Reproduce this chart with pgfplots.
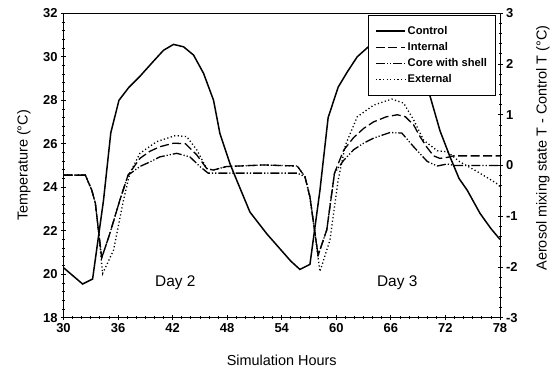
\documentclass[border=0pt]{standalone}
\usepackage{fontspec}
\setmainfont{Liberation Sans}
\usepackage{pgfplots}
\usepackage{pgfplotstable}
\pgfplotsset{compat=1.18}
\usetikzlibrary{calc}

\pgfplotstableread{
h T
30 20.30
32.1 19.55
33.2 19.78
34.4 23.4
35.2 26.5
36.1 28.0
37.2 28.6
38.4 29.1
39.9 29.8
41.0 30.3
42.1 30.57
43.2 30.46
44.3 30.08
45.4 29.24
46.5 28.0
47.2 26.47
48.3 25.09
49.05 24.32
50.5 22.86
52.35 21.86
53.8 21.17
55.0 20.6
56.0 20.22
57.1 20.45
58.2 23.86
59.1 27.2
60.2 28.6
61.2 29.3
62.3 30.0
63.5 30.45
64.8 30.75
66.0 30.85
67.2 30.75
68.3 30.4
69.3 29.6
70.3 28.2
71.4 26.6
72.5 25.4
73.5 24.4
74.4 23.86
75.8 22.8
77.0 22.1
78.0 21.6
}\control

\pgfplotstableread{
h d
30 -0.19
32.4 -0.19
33.1 -0.48
33.5 -0.74
33.8 -1.21
34.2 -1.82
35.1 -1.34
36.2 -0.68
37.1 -0.19
38.4 0.14
39.5 0.28
40.6 0.37
42.1 0.44
43.4 0.43
44.65 0.21
45.75 -0.06
46.45 -0.09
47.95 -0.02
52.0 0.01
55.7 -0.01
56.55 -0.22
57.1 -0.62
57.5 -1.14
58.0 -1.77
58.95 -1.27
59.8 -0.15
60.8 0.30
61.9 0.55
63.0 0.73
64.1 0.86
65.5 0.96
66.7 1.00
67.6 0.96
68.5 0.80
69.2 0.57
70.0 0.35
70.7 0.19
71.4 0.14
72.2 0.16
72.9 0.19
78.0 0.19
}\internal

\pgfplotstableread{
h d
30 -0.19
32.4 -0.19
33.1 -0.48
33.5 -0.74
33.8 -1.21
34.2 -1.82
35.1 -1.34
36.2 -0.68
37.1 -0.19
38.4 -0.02
39.5 0.07
40.6 0.17
42.45 0.24
43.9 0.17
45.0 -0.02
45.9 -0.15
55.7 -0.15
56.55 -0.22
57.1 -0.62
57.5 -1.14
58.0 -1.77
58.95 -1.27
59.8 -0.15
60.8 0.10
61.9 0.31
63.0 0.44
64.1 0.54
65.9 0.65
67.2 0.64
68.5 0.37
70.0 0.08
71.1 -0.01
72.2 0.03
73.0 0.00
78.0 0.00
}\core

\pgfplotstableread{
h d
30 -0.19
32.4 -0.19
33.1 -0.48
33.5 -0.74
33.8 -1.21
34.3 -2.13
35.5 -1.67
36.6 -0.68
37.3 -0.15
38.4 0.24
40.25 0.47
42.3 0.59
43.55 0.57
44.65 0.31
45.75 -0.06
46.45 -0.09
47.95 -0.02
52.0 0.01
55.7 -0.01
56.55 -0.22
57.1 -0.62
57.5 -1.14
58.2 -2.09
59.3 -1.47
60.2 -0.29
61.0 0.40
62.3 0.96
64.1 1.19
66.1 1.31
67.4 1.23
68.5 0.90
69.6 0.50
71.1 0.29
72.2 0.27
73.6 0.07
75.5 -0.12
77.6 -0.35
78.0 -0.42
}\external

\begin{document}
\begin{tikzpicture}
\pgfplotsset{
  common/.style={
    width=436.5bp, height=304.4bp, scale only axis,
    xmin=30, xmax=78,
    /pgf/number format/assume math mode=true,
    tick label style={font=\fontsize{13}{13}\selectfont\bfseries},
    label style={font=\fontsize{14.5}{14.5}\selectfont},
    major tick length=5bp, minor tick length=3bp,
    tick style={black, line width=0.8bp},
    axis line style={line width=1bp},
    tick align=center,
  },
  intstyle/.style={black, line width=1.3bp, dash pattern=on 9bp off 3.5bp},
  corestyle/.style={black, line width=1.3bp, dash pattern=on 9bp off 2bp on 1.2bp off 2bp on 1.2bp off 2bp},
  extstyle/.style={black, line width=1.3bp, dash pattern=on 1.2bp off 2.4bp},
}
\begin{axis}[common, name=main,
  ymin=18, ymax=32,
  xtick={30,36,...,78}, ytick={18,20,...,32},
  minor x tick num=5, minor y tick num=4,
  xtick pos=bottom, ytick pos=left,
  xlabel={Simulation Hours},
  ylabel={Temperature (°C)},
  xlabel style={at={(axis description cs:0.5,-0.1400)}, anchor=center},
  ylabel style={at={(axis description cs:-0.0905,0.5)}, anchor=center},
]
\addplot[black, line width=1.5bp] table[x=h, y=T] {\control};
\node[font=\fontsize{15.5}{15.5}\selectfont] at (axis cs:42.3,19.63) {Day 2};
\node[font=\fontsize{15.5}{15.5}\selectfont] at (axis cs:66.7,19.63) {Day 3};
\end{axis}
\begin{axis}[common,
  ymin=-3, ymax=3,
  axis y line*=right, axis x line=none,
  ytick={-3,-2,...,3}, minor y tick num=4,
  ylabel={Aerosol mixing state T - Control T (°C)},
  ylabel style={at={(axis description cs:1.0985,0.5575)}, anchor=center},
  legend cell align=left,
  legend image code/.code={\draw[#1] (0bp,0bp) -- (29bp,0bp);},
  legend style={at={(axis description cs:0.9908,0.9944)}, anchor=north east,
    draw=black, line width=0.8bp, fill=white,
    font=\fontsize{11.2}{12}\selectfont\bfseries,
    inner xsep=6.5bp, inner ysep=9bp, row sep=2.6bp,
    /tikz/every even column/.append style={column sep=1.5bp}},
]
\addlegendimage{black, line width=1.8bp}
\addlegendentry{Control}
\addplot[intstyle] table[x=h, y=d] {\internal};
\addlegendentry{Internal}
\addplot[corestyle] table[x=h, y=d] {\core};
\addlegendentry{Core with shell}
\addplot[extstyle] table[x=h, y=d] {\external};
\addlegendentry{External}
\end{axis}
\pgfresetboundingbox
\path[use as bounding box] ($(main.south west)+(-63.5bp,-54.3bp)$) rectangle ($(main.north east)+(53bp,13.3bp)$);
\end{tikzpicture}
\end{document}
